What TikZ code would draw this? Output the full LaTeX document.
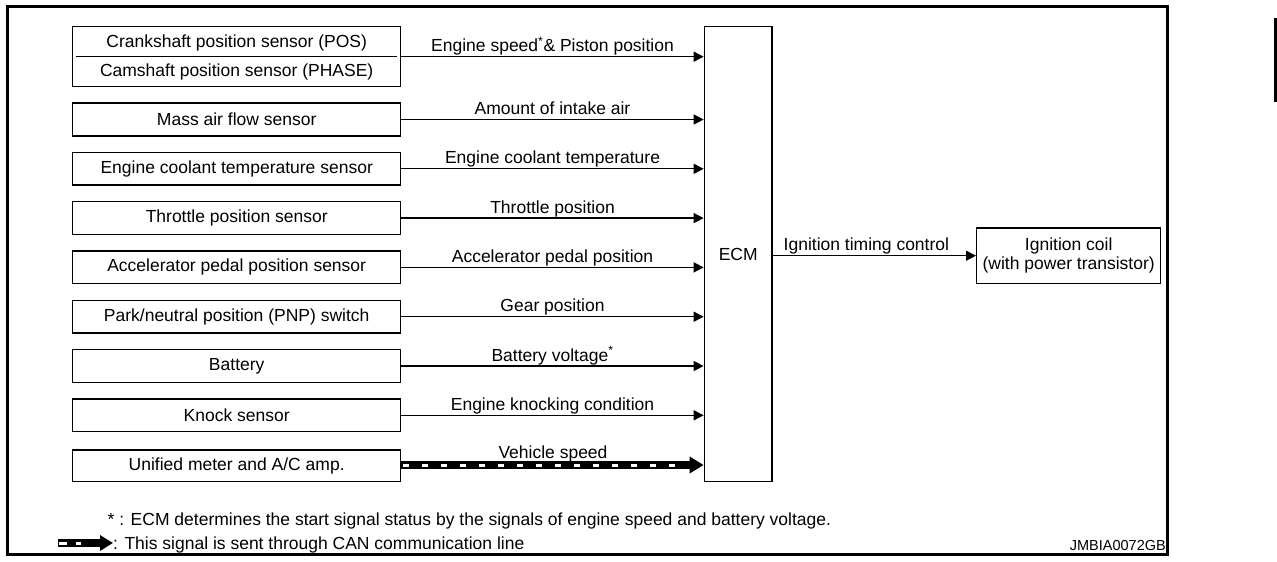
\documentclass[tikz,border=0pt]{standalone}
\usepackage{fontspec}
\setmainfont{Liberation Sans}
\usetikzlibrary{arrows.meta}
\begin{document}
\begin{tikzpicture}[x=1pt,y=-1pt,
  txt/.style={font=\fontsize{17.5}{19}\selectfont},
  sbox/.style={txt, draw, line width=1.4pt, minimum width=328pt, minimum height=32.7pt, inner sep=0pt},
  ebox/.style={txt, draw, line width=1.4pt, inner sep=0pt, align=center},
  sig/.style={line width=1.3pt, -{Triangle[length=10pt,width=10pt]}},
  lbl/.style={txt, midway, anchor=base, inner sep=0pt, yshift=5pt},
  can/.style={line width=7.5pt, -{Triangle[length=14pt,width=16pt]},
    postaction={draw=white, -, line width=3pt, dash pattern=on 0pt off 2pt on 6pt off 11pt, shorten >=16pt}},
  canlg/.style={line width=7.5pt, -{Triangle[length=13pt,width=15pt]},
    postaction={draw=white, -, line width=3pt, dash pattern=on 8pt off 9pt on 5pt off 40pt, shorten <=0.5pt}},
]
\useasboundingbox (0,0) rectangle (1277,562);
% outer frame and tab
\draw[line width=3pt] (7,6.5) rectangle (1167.5,554);
\fill (1273.5,18) rectangle (1276.8,102);

% ECM and ignition coil
\node[ebox, minimum width=67.7pt, minimum height=455pt] (ecm) at (738.2,254.2) {ECM};
\node[ebox, minimum width=184pt, minimum height=55.3pt] (coil) at (1068.7,255.7) {Ignition coil\\(with power transistor)};

% first double box
\node[sbox, minimum height=60pt] (pos) at (236.7,56.7) {};
\draw[line width=1.2pt] (76,56.7) -- (397,56.7);
\node[txt, inner sep=0pt] (posT) at (236.7,43) {Crankshaft position sensor (POS)};
\node[txt, inner sep=0pt] (phT) at (236.7,72) {Camshaft position sensor (PHASE)};

% sensor boxes
\node[sbox] (maf) at (236.7,119.5) {Mass air flow sensor};
\node[sbox] (ect) at (236.7,168.8) {Engine coolant temperature sensor};
\node[sbox] (tps) at (236.7,218.1) {Throttle position sensor};
\node[sbox] (app) at (236.7,267.4) {Accelerator pedal position sensor};
\node[sbox] (pnp) at (236.7,316.7) {Park/neutral position (PNP) switch};
\node[sbox] (bat) at (236.7,366) {Battery};
\node[sbox] (ks) at (236.7,415.3) {Knock sensor};
\node[sbox, minimum height=31.7pt] (uni) at (236.7,465.8) {Unified meter and A/C amp.};

% signal arrows
\draw[sig] (pos.east) -- (pos.east -| ecm.west) node[lbl] {Engine speed\textsuperscript{*}\& Piston position};
\draw[sig] (maf.east) -- (maf.east -| ecm.west) node[lbl] {Amount of intake air};
\draw[sig] (ect.east) -- (ect.east -| ecm.west) node[lbl] {Engine coolant temperature};
\draw[sig] (tps.east) -- (tps.east -| ecm.west) node[lbl] {Throttle position};
\draw[sig] (app.east) -- (app.east -| ecm.west) node[lbl] {Accelerator pedal position};
\draw[sig] (pnp.east) -- (pnp.east -| ecm.west) node[lbl] {Gear position};
\draw[sig] (bat.east) -- (bat.east -| ecm.west) node[lbl] {Battery voltage\textsuperscript{*}};
\draw[sig] (ks.east) -- (ks.east -| ecm.west) node[lbl] {Engine knocking condition};
\coordinate (canS) at ([yshift=0.8pt]uni.east);
\draw[can] (canS) -- (canS -| ecm.west);
\node[txt, anchor=base, inner sep=0pt] (vsl) at (553,458) {Vehicle speed};

\draw[sig] (coil.west -| ecm.east) -- (coil.west) node[lbl, xshift=-8pt] {Ignition timing control};

% footnotes
\node[txt, anchor=base west, inner sep=0pt] (fn1) at (107.5,525.5) {* : ECM determines the start signal status by the signals of engine speed and battery voltage.};
\coordinate (lgA) at (58,543);
\coordinate (lgB) at (113,543);
\draw[canlg] (lgA) -- (lgB);
\node[txt, anchor=base west, inner sep=0pt] (fn2) at (113,549.5) {: This signal is sent through CAN communication line};
\node[font=\fontsize{14.5}{16}\selectfont, anchor=base east, inner sep=0pt] (code) at (1166,550) {JMBIA0072GB};
\end{tikzpicture}
\end{document}
